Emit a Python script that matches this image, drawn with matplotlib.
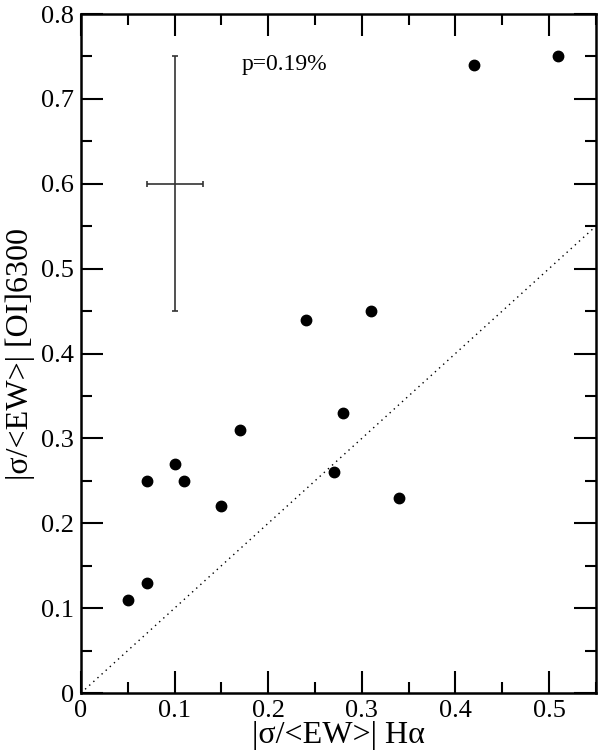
import matplotlib
matplotlib.use("Agg")
import matplotlib.pyplot as plt
from matplotlib.ticker import MultipleLocator
import numpy as np

plt.rcParams['font.family'] = ['Liberation Serif', 'DejaVu Serif']
plt.rcParams['mathtext.fontset'] = 'stix'

# |sigma/<EW>| values
ha = [0.05, 0.07, 0.07, 0.10, 0.11, 0.15, 0.17, 0.24, 0.27, 0.28, 0.31, 0.34, 0.42, 0.51]
oi = [0.11, 0.13, 0.25, 0.27, 0.25, 0.22, 0.31, 0.44, 0.26, 0.33, 0.45, 0.23, 0.74, 0.75]

# typical error bar
err_x, err_y = [0.10], [0.60]
err_dx, err_dy = [0.03], [0.15]

one_to_one = [0.0, 0.55]

fig = plt.figure(figsize=(6.0, 7.54), dpi=100)
ax = fig.add_axes([0.135, 0.0809, 0.858, 0.9005])

ax.plot(one_to_one, one_to_one, ls=(0, (1, 3)), color='black', lw=1.0)
ax.plot(ha, oi, 'o', color='black', ms=7.5, mec='black')
ax.errorbar(err_x, err_y, xerr=err_dx, yerr=err_dy, fmt='none',
            ecolor='#333333', elinewidth=1.2, capsize=2, capthick=1.2)

ax.text(0.172, 0.741, 'p=0.19%', fontsize=17, va='center', ha='left')

ax.set_xlim(0, 0.55)
ax.set_ylim(0, 0.8)
ax.xaxis.set_major_locator(MultipleLocator(0.1))
ax.xaxis.set_minor_locator(MultipleLocator(0.05))
ax.yaxis.set_major_locator(MultipleLocator(0.1))
ax.yaxis.set_minor_locator(MultipleLocator(0.05))
ax.xaxis.set_major_formatter(plt.FuncFormatter(lambda v, p: '0' if abs(v) < 1e-9 else f'{v:.1f}'))
ax.yaxis.set_major_formatter(plt.FuncFormatter(lambda v, p: '0' if abs(v) < 1e-9 else f'{v:.1f}'))

ax.tick_params(which='both', direction='in', top=True, right=True, labelsize=19, width=1.5)
ax.tick_params(which='major', length=16, pad=5)
ax.tick_params(which='minor', length=8)
for s in ax.spines.values():
    s.set_linewidth(1.8)

ax.set_xlabel('|σ/<EW>| Hα', fontsize=23, labelpad=-1)
ax.set_ylabel('|σ/<EW>| [OI]6300', fontsize=23, labelpad=4)

fig.savefig('out.png', dpi=100)
